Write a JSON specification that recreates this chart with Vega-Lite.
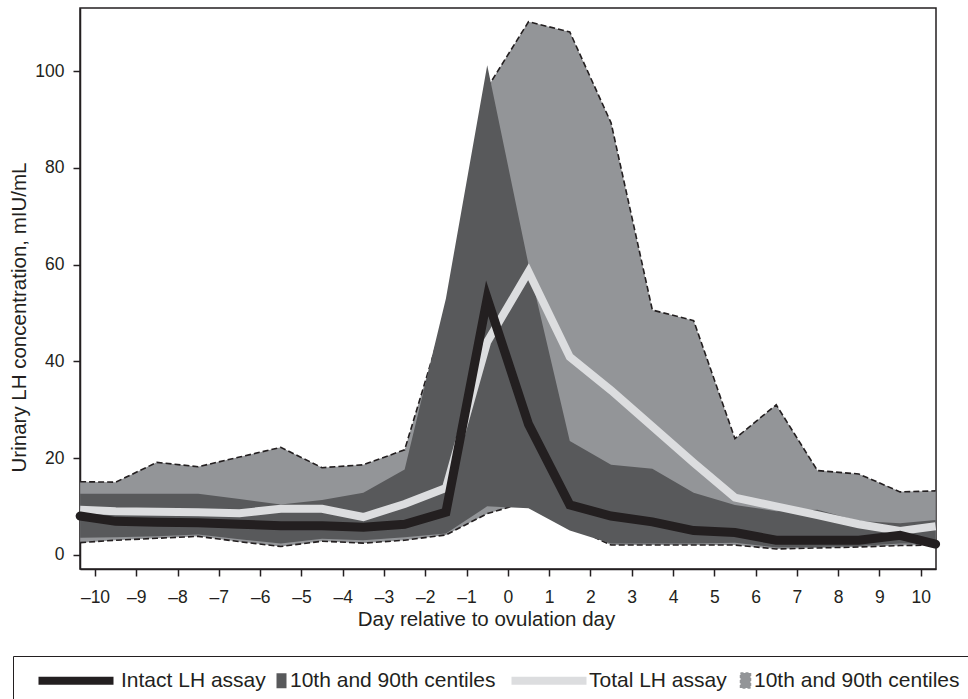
{
  "$schema": "https://vega.github.io/schema/vega-lite/v6.json",
  "width": 856,
  "height": 561,
  "autosize": {"type": "none"},
  "padding": {"left": 80, "top": 8, "right": 32, "bottom": 130},
  "background": "white",
  "config": {
    "font": "Liberation Sans",
    "view": {"stroke": "#231f20", "strokeWidth": 1.5},
    "axis": {
      "grid": false,
      "domainColor": "#231f20",
      "domainWidth": 1.5,
      "tickColor": "#231f20",
      "tickWidth": 1.5,
      "tickSize": 7,
      "labelFontSize": 17.5,
      "labelColor": "#231f20",
      "titleFontSize": 20.5,
      "titleFontWeight": "normal",
      "titleColor": "#231f20"
    }
  },
  "data": {
    "values": [
      {"day": -10.36, "il": 3.5, "ih": 12.6, "iv": 8.0, "tl": 2.5, "th": 15.1, "tv": 9.3},
      {"day": -9.5, "il": 3.6, "ih": 12.6, "iv": 6.9, "tl": 3.0, "th": 15.0, "tv": 9.0},
      {"day": -8.5, "il": 3.8, "ih": 12.6, "iv": 6.7, "tl": 3.4, "th": 19.1, "tv": 8.9},
      {"day": -7.5, "il": 4.2, "ih": 12.6, "iv": 6.6, "tl": 3.8, "th": 18.2, "tv": 8.8},
      {"day": -6.5, "il": 3.2, "ih": 11.5, "iv": 6.3, "tl": 2.7, "th": 20.2, "tv": 8.6},
      {"day": -5.5, "il": 2.3, "ih": 10.4, "iv": 6.0, "tl": 1.7, "th": 22.2, "tv": 9.5},
      {"day": -4.5, "il": 3.3, "ih": 11.3, "iv": 6.0, "tl": 2.8, "th": 18.0, "tv": 9.5},
      {"day": -3.5, "il": 3.0, "ih": 12.8, "iv": 5.7, "tl": 2.4, "th": 18.6, "tv": 7.8},
      {"day": -2.5, "il": 3.6, "ih": 17.6, "iv": 6.3, "tl": 3.0, "th": 21.7, "tv": 10.5},
      {"day": -1.5, "il": 4.4, "ih": 53.0, "iv": 8.8, "tl": 4.1, "th": 50.0, "tv": 13.8},
      {"day": -0.5, "il": 10.0, "ih": 101.2, "iv": 53.0, "tl": 8.5, "th": 96.5, "tv": 44.0},
      {"day": 0.5, "il": 9.6, "ih": 60.0, "iv": 27.0, "tl": 11.0, "th": 110.2, "tv": 58.5},
      {"day": 1.5, "il": 5.0, "ih": 23.5, "iv": 10.3, "tl": 6.0, "th": 108.1, "tv": 40.9},
      {"day": 2.5, "il": 2.3, "ih": 18.6, "iv": 8.0, "tl": 2.0, "th": 89.3, "tv": 34.0},
      {"day": 3.5, "il": 2.3, "ih": 17.8, "iv": 6.8, "tl": 2.0, "th": 50.6, "tv": 26.5},
      {"day": 4.5, "il": 2.3, "ih": 12.8, "iv": 5.0, "tl": 2.0, "th": 48.4, "tv": 19.0},
      {"day": 5.5, "il": 2.5, "ih": 10.3, "iv": 4.6, "tl": 2.0, "th": 24.0, "tv": 11.8},
      {"day": 6.5, "il": 1.5, "ih": 9.0, "iv": 3.0, "tl": 1.2, "th": 31.0, "tv": 10.0},
      {"day": 7.5, "il": 1.6, "ih": 9.3, "iv": 3.0, "tl": 1.4, "th": 17.4, "tv": 8.2},
      {"day": 8.5, "il": 1.8, "ih": 7.0, "iv": 3.0, "tl": 1.6, "th": 16.7, "tv": 6.3},
      {"day": 9.5, "il": 2.3, "ih": 6.5, "iv": 4.0, "tl": 1.9, "th": 13.0, "tv": 4.9},
      {"day": 10.36, "il": 2.3, "ih": 7.2, "iv": 2.2, "tl": 2.0, "th": 13.2, "tv": 5.9}
    ]
  },
  "encoding": {
    "x": {
      "field": "day",
      "type": "quantitative",
      "scale": {"domain": [-10.363, 10.37], "nice": false, "zero": false},
      "axis": {
        "values": [-10, -9, -8, -7, -6, -5, -4, -3, -2, -1, 0, 1, 2, 3, 4, 5, 6, 7, 8, 9, 10],
        "title": "Day relative to ovulation day",
        "labelPadding": 12,
        "titlePadding": 4,
        "titleX": 406,
        "labelExpr": "datum.value < 0 ? '–' + abs(datum.value) : '' + datum.value"
      }
    }
  },
  "layer": [
    {
      "mark": {"type": "area", "opacity": 1},
      "encoding": {
        "y": {
          "field": "tl",
          "type": "quantitative",
          "scale": {"domain": [-2.95, 113.05], "nice": false, "zero": false},
          "axis": {
            "values": [0, 20, 40, 60, 80, 100],
            "title": "Urinary LH concentration, mIU/mL",
            "labelPadding": 9,
            "titlePadding": 5,
            "titleY": 309
          }
        },
        "y2": {"field": "th"},
        "color": {
          "datum": "d",
          "type": "nominal",
          "scale": {"domain": ["a", "b", "c", "d"], "range": ["#231f20", "#58595b", "#dcdddf", "#939598"]},
          "legend": {
            "orient": "none",
            "legendX": -67,
            "legendY": 648,
            "direction": "horizontal",
            "columns": 4,
            "title": null,
            "symbolSize": 100,
            "symbolType": {"expr": "datum.value === 'a' ? 'M0.2,-0.8H15.2V0.8H0.2Z' : datum.value === 'c' ? 'M-1,-0.8H14V0.8H-1Z' : 'M-2,-1.5H0V1.5H-2Z'"},
            "symbolStrokeColor": {"expr": "datum.value === 'd' ? '#231f20' : 'transparent'"},
            "symbolDash": {"expr": "datum.value === 'd' ? [3, 2] : [1, 0]"},
            "symbolStrokeWidth": {"expr": "datum.value === 'd' ? 1.5 : 0"},
            "symbolOpacity": 1,
            "labelFontSize": 21,
            "labelLimit": 400,
            "labelColor": "#231f20",
            "labelOffset": {"expr": "datum.value === 'a' ? 73 : datum.value === 'c' ? 62 : -7"},
            "columnPadding": 10,
            "padding": 14,
            "strokeColor": "#231f20",
            "labelExpr": "datum.value === 'a' ? 'Intact LH assay' : datum.value === 'c' ? 'Total LH assay' : '10th and 90th centiles'"
          }
        }
      }
    },
    {
      "mark": {"type": "line", "color": "#231f20", "strokeWidth": 1.6, "strokeDash": [6, 3]},
      "encoding": {"y": {"field": "th", "type": "quantitative"}}
    },
    {
      "mark": {"type": "line", "color": "#231f20", "strokeWidth": 1.6, "strokeDash": [6, 3]},
      "encoding": {"y": {"field": "tl", "type": "quantitative"}}
    },
    {
      "mark": {"type": "area", "opacity": 1},
      "encoding": {
        "y": {"field": "il", "type": "quantitative"},
        "y2": {"field": "ih"},
        "color": {"datum": "b", "type": "nominal"}
      }
    },
    {
      "mark": {"type": "line", "strokeWidth": 8, "strokeJoin": "miter", "strokeCap": "butt"},
      "encoding": {
        "y": {"field": "tv", "type": "quantitative"},
        "color": {"datum": "c", "type": "nominal", "legend": null}
      }
    },
    {
      "mark": {"type": "line", "strokeWidth": 9, "strokeJoin": "miter", "strokeCap": "round"},
      "encoding": {
        "y": {"field": "iv", "type": "quantitative"},
        "color": {"datum": "a", "type": "nominal", "legend": null}
      }
    }
  ]
}
